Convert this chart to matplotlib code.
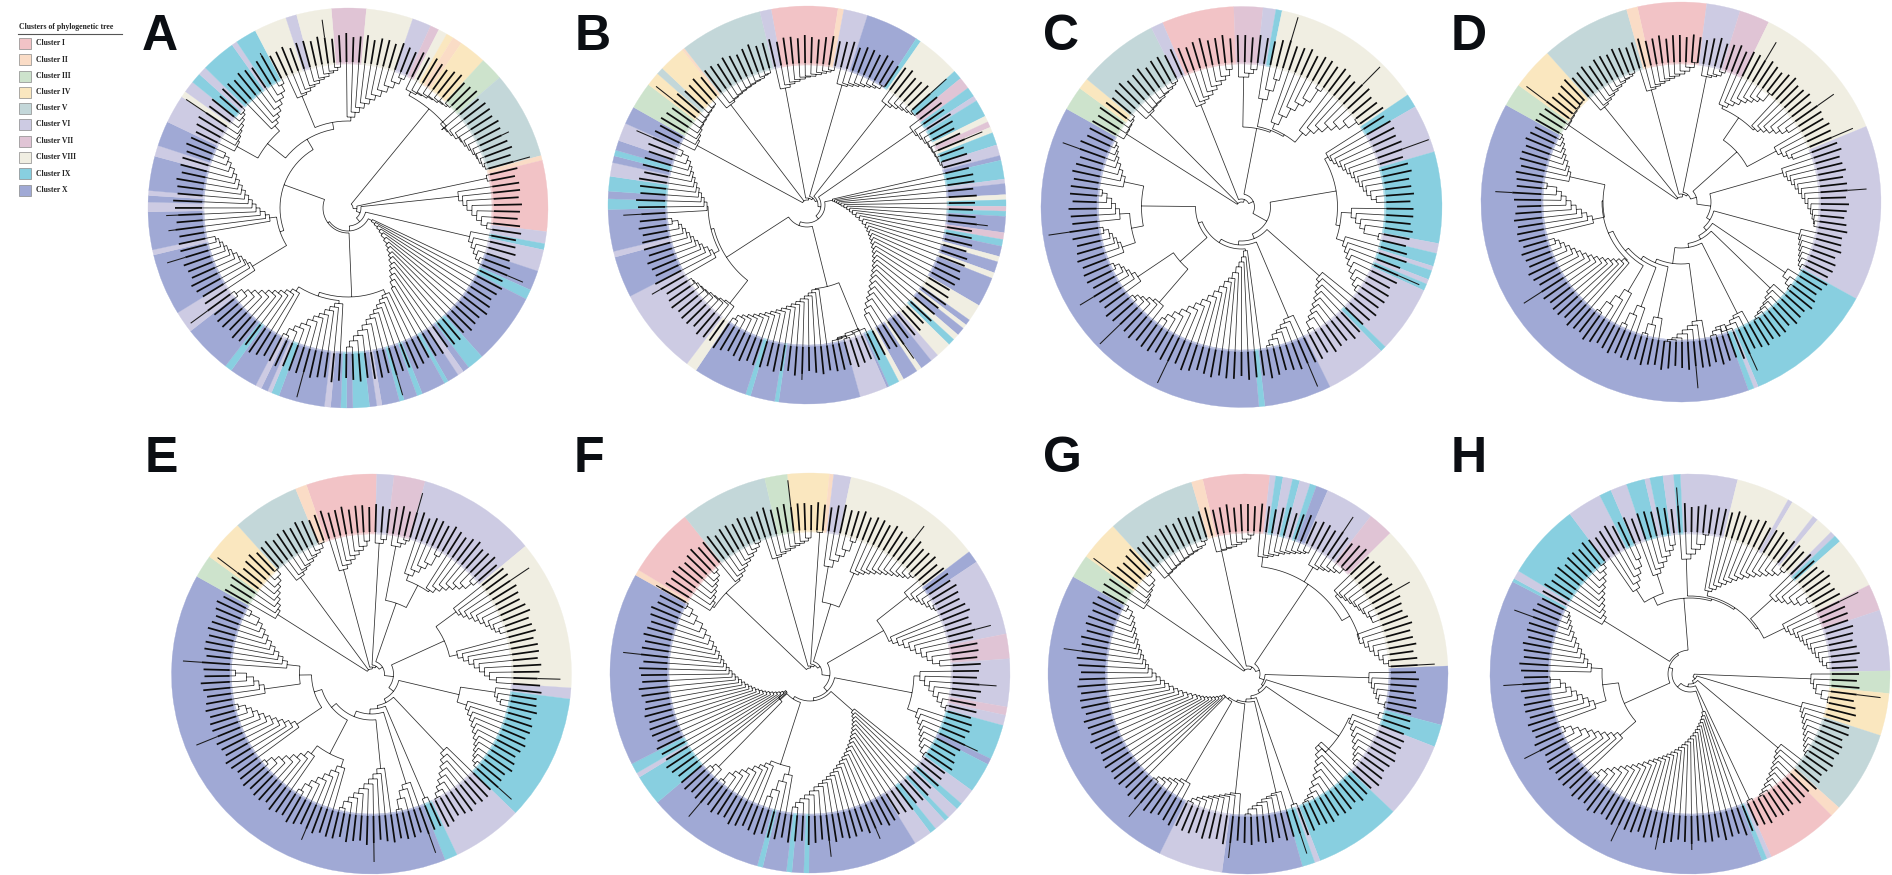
import numpy as np
import matplotlib

matplotlib.use("Agg")

import matplotlib.pyplot as plt

plt.rcParams["font.family"] = ["Liberation Serif", "DejaVu Serif"]

W, H = 1892, 875

cluster_names = ["Cluster I", "Cluster II", "Cluster III", "Cluster IV", "Cluster V",
                 "Cluster VI", "Cluster VII", "Cluster VIII", "Cluster IX", "Cluster X"]
cluster_colors = ["#F2C3C6", "#FADCC6", "#CDE3CC", "#FAE7BF", "#C3D7D9",
                  "#CDCBE3", "#E0C4D5", "#F0EEE2", "#88CFE0", "#A0A9D5"]

# ring of each panel: cluster number and the angle (clockwise from top) where it ends
ring_start = {"A": -4.8, "B": -10.4, "C": -23.2, "D": -12.6, "E": -19, "F": -6.6, "G": -13.1, "H": -2.8}
ring_A_c = [7,8,6,7,8,4,2,4,3,5,2,1,6,9,6,10,9,10,9,10,6,10,9,10,9,10,9,10,6,10,9,10,9,10,6,10,9,6,10,6,10,9,10,6,10,6,10,6,10,6,10,6,10,6,8,6,9,6,9,6,9,8,6,8]
ring_A_e = [5.3,18.9,24.4,27,29.6,31.7,34.5,42.5,49.3,74.8,76.2,96.8,100.3,102.1,108.4,114.2,117.1,138,142.9,144.8,146.6,150,151.2,158.2,159.8,163.7,165.1,170.2,171.7,173.8,178.6,180.4,182.1,185,186.8,200.2,202.5,203.7,205.7,207.5,215.7,217.8,232,238.4,256.4,257.9,268.9,271.7,273.6,275,285,288.2,295.5,303.8,305.6,309,312,314.5,324.6,326.2,332.4,341.9,345.1,355.2]
ring_B_c = [1,2,6,10,9,8,9,7,9,6,9,8,7,8,9,6,10,9,6,10,8,9,7,9,10,7,9,10,8,10,8,10,8,10,8,10,8,9,8,6,10,8,10,8,9,10,6,10,9,10,9,10,8,6,10,6,10,9,10,9,6,10,9,10,6,10,3,4,5,4,2,5,6]
ring_B_e = [9,10.7,17.7,33.3,34.8,47.8,50.5,54,56.9,58.4,63.5,65.3,67,68.7,72.4,75.6,77,82.5,83.8,87,88.5,90.4,91.8,93.3,98,100,102,105,106.6,109.9,111.6,120.3,125.3,127,128.3,130.7,132.5,134.5,139,141.4,145,146.5,151,152.5,155.7,156.4,164.5,188.2,189.4,196.5,198,213.9,217.1,242.7,254.8,256.5,268.7,271.8,274,278.3,282.3,284.3,286,288.9,294.2,299.4,307.2,311.3,313.4,321.2,322,346.3,349.6]
ring_C_c = [1,7,6,9,8,9,6,9,6,9,6,9,6,9,6,9,6,10,9,10,3,4,5,6]
ring_C_e = [-2.2,6.2,9.9,11.7,56,60,74,100.5,103.4,107.2,108.5,111.2,112.6,114.6,134.2,135.9,153.8,173.3,175,299.3,306.3,309.6,333.3,336.8]
ring_D_c = [1,6,7,8,6,9,6,9,10,3,4,5,2]
ring_D_e = [7.4,17.2,26,67.8,118.9,157.3,158.6,160.3,299,305.7,318.1,344.2,347.4]
ring_E_c = [1,6,7,6,8,6,9,6,9,10,3,4,5,2]
ring_E_e = [1.5,6.5,15.6,50.3,94,97.2,134,154.7,158.4,299.2,305.9,318,337.7,341]
ring_F_c = [4,2,6,8,10,6,7,6,7,6,9,10,9,6,9,6,9,6,9,6,10,9,10,9,10,9,10,9,6,9,10,2,1,5,3]
ring_F_e = [5.6,6.8,11.9,52.7,56.3,78.7,85.9,99.8,102.2,105.2,115.4,117.2,126,130.8,132.8,136.2,137.6,141.1,143,148.3,180.3,181.8,185.2,186.8,193.7,195.3,229.7,238.6,240,243,299.3,301,321.3,346.9,353.4]
ring_G_c = [1,6,9,6,9,6,9,10,6,7,8,10,9,6,9,6,9,10,6,10,3,4,5,2]
ring_G_e = [6.3,8,10.1,12.9,15,18.1,20,23.5,37.9,45.3,87.7,104.8,111.3,133.5,158.9,160.5,164.2,187.5,206.2,299.1,306,317.6,343.6,346.9]
ring_H_c = [6,8,6,8,6,8,6,9,8,7,6,3,4,5,2,1,6,9,10,9,6,9,6,9,6,9,6,9,6,9]
ring_H_e = [13.8,29.4,30.8,38,39.6,44.8,46.4,48.5,63.6,71.4,89.1,95.6,107.9,131.9,135,156,157.4,158.9,297.5,298.5,301,323.1,333.2,336.7,341.5,346.9,348.4,352.2,355.3,357.2]

# trees: [node radius, children...]; a tuple is a ladder clade, one node radius per step
tree_A = [5,
    [128, (132,134,135,137,138,140,141,143), [122, (125,126,128,131,132,134,136,138,139,141,143)]],
    [9, [140, (142,)],
     [13, [109, (111,115,119,124,129,134,140)],
      [18, [122, (125,129,133,137,141)],
       [23, (27,31,35,39,43,48,53,57,62,66,71,75,80,85,91),
        [25, [89, (94,97,101,105,109,113,118,123,128,133,139),
              [93, (96,100,104,109,113,118,124,129,134,141), (98,102,106,110,114,119,124,129,134,141)]],
         [68, [72, (112,115,117,120,124,127,130,133,136), (79,83,88,92,96,100,104,108,112,116,120,125,129,134)],
          [80, [103, (127,129,131,133,136,139,142), (110,114,118,123,128,133,140)],
           [87, (121,123,126,128,131,133,136,138,141), (91,96,101,106,111,116,122,128,134,140)]]]]]]]]]

tree_B = [5,
    [123, (125,127,129,131,132,133,134,135,136)],
    [124, (126,128,129,130,131,132,133,134,136,137)],
    [7, [117, (119,122,124,126,128,129,131,133,135,137)],
     [9, [123, (125,127,129,131,133,135,137,141)],
      [11, [126, (128,131,134,136,138,140)],
       [14, [127, (129,131,133,135,136,137,138,139,141)],
        [18, (26,28,30,32,34,37,40,43,46,50,54,58,62,65,68,71,74,77,80,83,86,89,92,95,98,102,106,110,114,119,124),
         [22, [84, (136,134,137,139,136,138), (85,88,91,94,97,100,103,106,109,112,115,118,121,124,127,130,135)],
          [96, (125,127,129,130,132,133,134,136,137),
           [99, (105,108,112,115,118,121,124,127,130,136), (100,103,106,109,112,115,118,121,124,128,135)]]]]]]]]]

tree_C = [5,
    [134, (136,137,138,140)],
    [128, (130,132,133,134,136,137,139,141)],
    [8, [107, (110,113,116,120,124,128,132,138)],
     [13, [80, [128, (130,134,138)], [82, (110,120,132), [84, (90,100,110,118,125,140),
        (96,103,110,118,125,133,143)]]],
      [29, [96, (100,102,105,108,111,114,117,120,123,126,130,135),
            [100, (110,115,120,125,140), [105, (108,112,116,120,125,130,135,140)]]],
       [34, [101, (104,108,112,116,120,124,128,132,140)],
        [38, [116, (120,124,128,131,136,141)],
         [42, (44,50,55,60,66,72,76,82,88,94,100,106,112,118,124,130,136),
          [46, [82, (126,129,133,136,140), (125,129,132,135,140)],
           [100, [112, (126,129,132,135,140), (122,126,130,135,140)],
            (120,124,128,132,135,137,140)]]]]]]]]]

tree_D = [5,
    [135, (136,137,138,139,140,141)],
    [120, (122,124,126,128,130,132,134,135,137)],
    [8, [114, (116,118,120,122,124,126,128,131,135,140)],
     [10, [126, (128,130,132,136)],
      [16, [75, [102, (105,109,113,118,122,126,130,140), (104,108,112,117,122,128)],
            [105, (108,112,116,120)]],
       [30, [104, (106,109,112,115,118,121,124,127,130,132,134,135)],
        [34, [121, (123,125,127,129,131,133,136)],
         [38, [122, (126,132,137)],
          [42, [122, (124,127,130,132,134,136,139)],
           [46, [118, (125,128,132,136,130,133,137)],
            [62, (120,124,128,132,136,138,140),
             [66, (118,126,136),
              [70, (112,122,134),
               [74, (104,114,124,136),
                [79, (80,84,88,92,96,100,104,108,112,116,120,124,128,132),
                 [78, (90,95,100,105,110,115,120,125,135), (114,117,120,124,127,130,133,136)]]]]]]]]]]]]]]]

tree_E = [5,
    [108, (111,114,118,122,126,130,135,141)],
    [118, (120,123,125,127,130,132,135,140)],
    [7, [105, (108,112,116,120,124,128,133)],
     [9, [128, (131,135)],
      [13, [75, [128, (130,134,138)], [100, (106,112,118,124,135),
            (102,107,112,117,122,127,135)]],
       [22, [80, (105,108,112,116,120,124,128,131,135), (88,93,98,103,108,113,118,125)],
        [28, [90, (125,128,132), (100,104,108,112,116,120,124,127,130,133,137)],
         [32, [100, (105,110,115,120,125,130,135,140)],
          [35, [130, (135,)],
           [40, [85, (115,120,128,138)],
            [46, [92, (95,100,105,110,115,120,125,130,137)],
             [52, [90, (98,104,110,116,122,128,136), (100,106,112,118,124,130,137)],
              [60, (90,95,100,105,110,115,120,125,130,137),
               [72, (108,113,118,125,136), (85,90,95,100,105,110,115,120,125,135)]]]]]]]]]]]]]

tree_F = [5,
    [116, (118,121,124,127,130,133,138), (118,121,124,127,130,133,136,140)],
    [7, [118, (120,122,124,126,128,130,132,135)],
     [9, [140, (141,)],
      [12, [72, [102, (108,115,121,128,138)],
            [106, (109,112,115,118,121,124,127,130,133,136,140)]],
       [20, [85, [120, (124,128,131,134,137,140)], (88,93,98,103,108,113,118,123,130)],
        [25, [104, (110,115,120,125,130,135,140), (114,118,122,125,128,131,135,140)],
         [28, (57,60,63,66,69,72,75,78,81,84,87,90,93,96,99,102,105,108,111,114,118,122,126,130,135),
          [31, [96, (104,112,122,130), (100,104,108,113,118,123,128,138)],
           [40, [128, (131,136)],
            (30,33,36,39,42,45,48,51,54,57,60,63,66,69,72,75,78,81,84,87,90,93,97,101,106,112,118,126,133,140)]]]]]]]]]

tree_G = [5,
    [121, (123,125,127,129,132,140)],
    [126, (127,128,129,130,131,132,133,134,136,140)],
    [8, [125, (126,127,128,130,132,135,139)],
     [12, [108, (118,120,122,125,127,129,131,133,135),
           (125,128,130,133,136,142),
           [117, (120,122,124,126,128,130,132,135,135), (116,120,124,128,132,136,141)]],
      [17, [119, (121,124,127,130,133,140)],
       [19, [135, (137,)],
        [22, [110, (112,116,120,124,128,132,135,138), (100,105,110,115,120,125,130,135,138,140)],
         [25, [136, (138,)],
          [28, [120, (122,124,126,129,132,135,140)],
           [30, [118, (120,122,124,126,128,130,133,136,140)],
            [32, [121, (124,127,130,133,136,140)],
             (32,35,38,41,44,47,50,53,56,60,64,68,72,76,80,84,88,92,96,100,103,106,109,112,115,118,121,124,127,131,137)]]]]]]]]]]

tree_H = [4,
    [119, (121,124,127,133,140)],
    [7, [114, (116,119,122,125,128,131,134,137,140)],
     [10, [113, (115,118,121,124,127,130,133,136,139,141)],
      [13, [137, (139,)],
       [18, (40,44,47,50,53,56,59,62,65,68,71,74,77,80,83,86,89,92,95,99,103,107,111,115,120,125,130,136),
        [22, [72, [90, (93,98,103,108,113,118,124,130,137)],
              [88, (100,105,110,115,120,125,130,140), (99,103,107,111,115,119,123,127,130,133,135)]],
         [24, [72, (101,105,109,113,117,121,125,130,135,140)],
          [76, [85, (100,106,112,118,126), (105,110,115,120,125,130)],
           [78, (115,120,125,130,140), [80, (85,88,92,96,100,104,108,112,116,120,124,128,132,138),
            [82, (112,116,120,125,130,138), (105,108,112,115,118,121,124,127,130,133,137)]]]]]]]]]]]

# tips whose labels run past the others: angle and radius of the tip
long_tips = {
    "A": [(352,190),(330,178),(75,189),(305,195),(268,182),(262,181),(254,189),(234,195),(195,196),(164,195),(112,190),(65,178)],
    "B": [(307.5,192),(293,186),(268,184),(241,179),(182,175),(145,187),(96,182),(67,190),(48,188)],
    "C": [(261,195),(290,190),(240,189),(227,197),(206,195),(158,195),(113,194),(71,199),(16,198),(45,197)],
    "D": [(306,193),(274,186),(238,187),(175,187),(156,185),(87,186),(68,187),(55,187),(32,186)],
    "E": [(306,193),(275,189),(249,189),(203,180),(180,188),(161,190),(133,188),(91,189),(55,190),(16,188)],
    "F": [(300,177),(276,188),(220,188),(174,185),(156,180),(115,185),(94,187),(76,187),(38,186),(354,194)],
    "G": [(307,193),(277,186),(221,186),(185,185),(162,189),(86,187),(60,186),(34,189)],
    "H": [(290,187),(266,187),(243,186),(206,185),(192,179),(180,176),(97,192),(63,187),(355,187)],
}

panel_names = ["A", "B", "C", "D", "E", "F", "G", "H"]
panel_x = [348, 807, 1241.5, 1681, 371.5, 810, 1248, 1690]
panel_y = [208, 205, 207, 202, 674, 673, 674, 674]
panel_R = [200, 199, 200.5, 200, 200, 200, 200, 200]
panel_in = [144, 140, 143, 138, 140, 141, 141, 140]
leaf_start = [26, 296, 300, 302, 300, 302, 302, 90]
trees = [tree_A, tree_B, tree_C, tree_D, tree_E, tree_F, tree_G, tree_H]
rings_c = [ring_A_c, ring_B_c, ring_C_c, ring_D_c, ring_E_c, ring_F_c, ring_G_c, ring_H_c]
rings_e = [ring_A_e, ring_B_e, ring_C_e, ring_D_e, ring_E_e, ring_F_e, ring_G_e, ring_H_e]

letter_x = [142, 575, 1043, 1451, 145, 574, 1043, 1451]
letter_y = [50, 50, 50, 50, 472, 472, 472, 472]
label_ends = [27, 25, 28, 26, 24, 27, 29, 25, 26, 28, 24, 27]


def expand(node):
    # ladder tuples become nested nodes, a leaf is None
    if node is None:
        return None
    if isinstance(node, tuple):
        if not node:
            return None
        if node[0] <= node[-1]:
            return [node[0], None, expand(node[1:])]
        return [node[-1], expand(node[:-1]), None]
    return [node[0]] + [expand(c) for c in node[1:]]


def count_leaves(node):
    if node is None:
        return 1
    return sum(count_leaves(c) for c in node[1:])


def layout(node, st):
    if node is None:
        th = st["start"] + st["i"] * st["step"]
        st["i"] += 1
        st["leaves"].append(th)
        return th, st["tip"]
    r = node[0]
    kids = [layout(c, st) for c in node[1:]]
    ths = [k[0] for k in kids]
    for th, rk in kids:
        st["x"] += [np.radians(th), np.radians(th), np.nan]
        st["y"] += [r, rk, np.nan]
    arc = np.linspace(min(ths), max(ths), max(2, int((max(ths) - min(ths)) / 2) + 2))
    st["x"] += list(np.radians(arc)) + [np.nan]
    st["y"] += [r] * len(arc) + [np.nan]
    return (min(ths) + max(ths)) / 2, r


fig = plt.figure(figsize=(W / 100, H / 100), dpi=100, facecolor="white")
bg = fig.add_axes([0, 0, 1, 1])
bg.set_xlim(0, W)
bg.set_ylim(H, 0)
bg.axis("off")

# legend
bg.text(19, 26.8, "Clusters of phylogenetic tree", fontsize=5.6, fontweight="bold",
        va="center", ha="left", color="#222222")
bg.plot([18, 122], [33.5, 33.5], color="#555555", lw=0.8)
legend_y = [43, 59.5, 76, 92, 108.5, 124.5, 141, 157, 173.5, 190]
for name, color, y in zip(cluster_names, cluster_colors, legend_y):
    bg.add_patch(plt.Rectangle((19, y - 5.5), 11.5, 11, facecolor=color, edgecolor="#8a8a8a", lw=0.5))
    bg.text(35.5, y, name, fontsize=5.5, fontweight="bold", va="center", ha="left", color="#222222")

for name, lx, ly in zip(panel_names, letter_x, letter_y):
    bg.text(lx, ly, name, fontsize=36, fontweight="bold", family=["Liberation Sans"],
            ha="left", va="baseline", color="#0b0e13")

for p, name in enumerate(panel_names):
    cx, cy, R, r_in = panel_x[p], panel_y[p], panel_R[p], panel_in[p]
    size = R + 1
    ax = fig.add_axes([(cx - size) / W, 1 - (cy + size) / H, 2 * size / W, 2 * size / H], projection="polar")
    ax.set_theta_zero_location("N")
    ax.set_theta_direction(-1)
    ax.set_ylim(0, size)
    ax.axis("off")
    ax.patch.set_alpha(0)

    # coloured ring
    edges = [ring_start[name]] + list(rings_e[p])
    for c, a0, a1 in zip(rings_c[p], edges[:-1], edges[1:]):
        col = cluster_colors[c - 1]
        ax.bar(np.radians((a0 + a1) / 2), R - r_in, width=np.radians(a1 - a0), bottom=r_in,
               color=col, edgecolor=col, linewidth=0.2)
    # the inner edge of the ring fades out a little
    ax.bar(0, 1.5, width=2 * np.pi, bottom=r_in, color="white", alpha=0.35, linewidth=0)

    tree = expand(trees[p])
    n = count_leaves(tree)
    st = {"start": leaf_start[p], "step": 360 / n, "i": 0, "tip": r_in + 4, "leaves": [], "x": [], "y": []}
    layout(tree, st)
    ax.plot(st["x"], st["y"], color="#2b2b2b", lw=0.55, solid_capstyle="butt")

    # tip labels are too small to read, they show as short dark strokes
    leaves = np.array(st["leaves"])
    ends = [r_in + label_ends[i % len(label_ends)] + 2 for i in range(n)]
    base_ends = list(ends)
    for ang, tip in long_tips[name]:
        diff = np.abs((leaves - ang + 180) % 360 - 180)
        ends[int(np.argmin(diff))] = tip
    lx, ly, ex, ey = [], [], [], []
    for th, end, base in zip(leaves, ends, base_ends):
        lx += [np.radians(th), np.radians(th), np.nan]
        ly += [r_in + 2, min(end, base), np.nan]
        if end > base:
            ex += [np.radians(th), np.radians(th), np.nan]
            ey += [base, end, np.nan]
    ax.plot(lx, ly, color="#0c0c0c", lw=1.25, solid_capstyle="butt")
    ax.plot(ex, ey, color="#1a1a1a", lw=0.75, solid_capstyle="butt")

fig.savefig("out.png", dpi=100)
plt.close(fig)
